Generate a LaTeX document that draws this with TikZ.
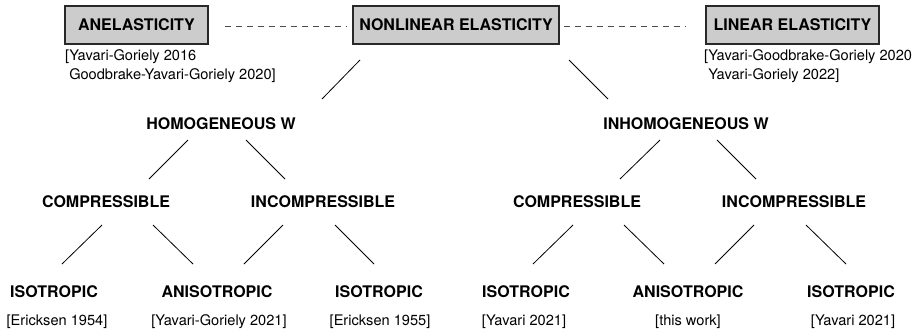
\documentclass[tikz,border=0pt]{standalone}
\usepackage{fontspec}
\setmainfont{TeX Gyre Heros}
\definecolor{boxgray}{RGB}{204,204,204}
\definecolor{edgegray}{RGB}{40,40,40}
\begin{document}
\begin{tikzpicture}[x=1pt,y=-1pt,
  lab/.style={inner sep=0pt,font=\fontsize{16}{19}\selectfont\bfseries},
  topbox/.style={lab,draw=edgegray,line width=1.2pt,fill=boxgray,minimum height=38pt},
  cite/.style={inner sep=0pt,font=\fontsize{14.6}{19}\selectfont,anchor=base},
  refs/.style={inner sep=0pt,font=\fontsize{14.6}{19}\selectfont,align=left,anchor=north west},
  conn/.style={draw=black,line width=0.8pt},
  dashconn/.style={draw=black!70,line width=0.8pt,dash pattern=on 6pt off 5pt}]
\useasboundingbox (0,0) rectangle (923,333);
% top boxes
\node[topbox,minimum width=143pt] (ane) at (136.5,25) {ANELASTICITY};
\node[topbox,minimum width=206pt] (nl) at (456,25) {NONLINEAR ELASTICITY};
\node[topbox,minimum width=173pt] (lin) at (792.5,25) {LINEAR ELASTICITY};
\node[refs] (refane) at (65,49) {[Yavari-Goriely 2016\\\ Goodbrake-Yavari-Goriely 2020]};
\node[refs] (reflin) at (704,49) {[Yavari-Goodbrake-Goriely 2020\\\ Yavari-Goriely 2022]};
% levels
\node[lab] (hom) at (221,124) {HOMOGENEOUS W};
\node[lab] (inh) at (686,124) {INHOMOGENEOUS W};
\node[lab] (c1) at (106,202) {COMPRESSIBLE};
\node[lab] (i1) at (323,202) {INCOMPRESSIBLE};
\node[lab] (c2) at (577,202) {COMPRESSIBLE};
\node[lab] (i2) at (794,202) {INCOMPRESSIBLE};
\node[lab] (iso1) at (54,292) {ISOTROPIC};
\node[lab] (an1) at (217,292) {ANISOTROPIC};
\node[lab] (iso2) at (379,292) {ISOTROPIC};
\node[lab] (iso3) at (526,292) {ISOTROPIC};
\node[lab] (an2) at (688,292) {ANISOTROPIC};
\node[lab] (iso4) at (851,292) {ISOTROPIC};
% citations
\node[cite] (r1) at (57,325) {[Ericksen 1954]};
\node[cite] (r2) at (219,325) {[Yavari-Goriely 2021]};
\node[cite] (r3) at (380,325) {[Ericksen 1955]};
\node[cite] (r4) at (524,325) {[Yavari 2021]};
\node[cite] (r5) at (688,325) {[this work]};
\node[cite] (r6) at (853,325) {[Yavari 2021]};
% dashed links
\draw[dashconn] ([xshift=16pt,yshift=-1pt]ane.east) -- ([xshift=-5pt,yshift=-1pt]nl.west);
\draw[dashconn] ([xshift=4pt,yshift=-1pt]nl.east) -- ([xshift=-19pt,yshift=-1pt]lin.west);
% tree connectors
\draw[conn] ([shift={(-96,35)}]nl.center) -- ([shift={(101,-25)}]hom.center);
\draw[conn] ([shift={(113,35)}]nl.center) -- ([shift={(-78,-25)}]inh.center);
\draw[conn] ([shift={(-33,16)}]hom.center) -- ([shift={(43,-23)}]c1.center);
\draw[conn] ([shift={(25,16)}]hom.center) -- ([shift={(-38,-23)}]i1.center);
\draw[conn] ([shift={(-26,16)}]inh.center) -- ([shift={(43,-23)}]c2.center);
\draw[conn] ([shift={(31,16)}]inh.center) -- ([shift={(-38,-23)}]i2.center);
\draw[conn] ([shift={(-4,23)}]c1.center) -- ([shift={(8,-28)}]iso1.center);
\draw[conn] ([shift={(47,23)}]c1.center) -- ([shift={(-24,-28)}]an1.center);
\draw[conn] ([shift={(-40,23)}]i1.center) -- ([shift={(27,-28)}]an1.center);
\draw[conn] ([shift={(12,23)}]i1.center) -- ([shift={(-5,-28)}]iso2.center);
\draw[conn] ([shift={(-4,23)}]c2.center) -- ([shift={(7,-28)}]iso3.center);
\draw[conn] ([shift={(47,23)}]c2.center) -- ([shift={(-24,-28)}]an2.center);
\draw[conn] ([shift={(-40,23)}]i2.center) -- ([shift={(27,-28)}]an2.center);
\draw[conn] ([shift={(12,23)}]i2.center) -- ([shift={(-5,-28)}]iso4.center);
\end{tikzpicture}
\end{document}
